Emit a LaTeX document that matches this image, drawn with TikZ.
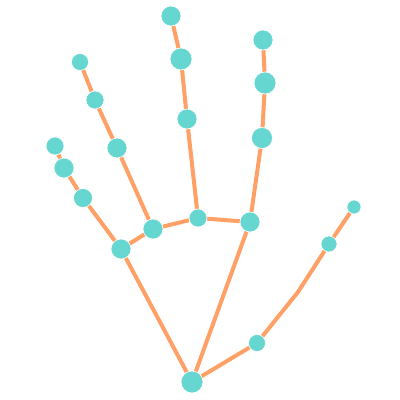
\documentclass[tikz,border=0pt]{standalone}
\usetikzlibrary{calc,positioning}
\definecolor{bonecolor}{RGB}{255,160,102}
\definecolor{jointcolor}{RGB}{102,214,208}
\tikzset{%
    joint/.style={%
        circle, fill=jointcolor, draw=white, line width=0.6pt, inner sep=0pt, minimum size=#1
    },
    joint/.default=18pt,
    bone/.style={%
        draw=bonecolor, line width=4pt
    },
}
\begin{document}
\begin{tikzpicture}[x=1pt,y=-1pt]

    \useasboundingbox (0,0) rectangle (400,400);

    % wrist and palm
    \node[joint=22pt] (wrist) at (192,382) {};
    \node[joint=20pt] (index1) at (250,222) {};
    \node[joint=18pt] (middle1) at (198,218) {};
    \node[joint=20pt] (ring1) at (153,229) {};
    \node[joint=20pt] (pinky1) at (121,249) {};

    % thumb
    \node[joint=17pt] (thumb1) at (257,343) {};
    \coordinate (thumbbend) at (298,292);
    \node[joint=16pt] (thumb2) at (329,244) {};
    \node[joint=14pt] (thumb3) at (354,207) {};

    % index finger
    \node[joint=21pt] (index2) at (262,138) {};
    \node[joint=22pt] (index3) at (265,83) {};
    \node[joint=20pt] (index4) at (263,40) {};

    % middle finger
    \node[joint=20pt] (middle2) at (187,119) {};
    \node[joint=22pt] (middle3) at (181,59) {};
    \node[joint=20pt] (middle4) at (171,16) {};

    % ring finger
    \node[joint=20pt] (ring2) at (117,148) {};
    \node[joint=18pt] (ring3) at (95,100) {};
    \node[joint=17pt] (ring4) at (80,62) {};

    % pinky
    \node[joint=19pt] (pinky2) at (83,198) {};
    \node[joint=20pt] (pinky3) at (64,168) {};
    \node[joint=18pt] (pinky4) at (55,146) {};

    \draw[bone] (wrist) -- (thumb1) -- (thumbbend) -- (thumb2) -- (thumb3);
    \draw[bone] (wrist) -- (index1);
    \draw[bone] (wrist) -- (pinky1);
    \draw[bone] (pinky1) -- (ring1) -- (middle1) -- (index1);
    \draw[bone] (index1) -- (index2) -- (index3) -- (index4);
    \draw[bone] (middle1) -- (middle2) -- (middle3) -- (middle4);
    \draw[bone] (ring1) -- (ring2) -- (ring3) -- (ring4);
    \draw[bone] (pinky1) -- (pinky2) -- (pinky3) -- (pinky4);

\end{tikzpicture}
\end{document}
